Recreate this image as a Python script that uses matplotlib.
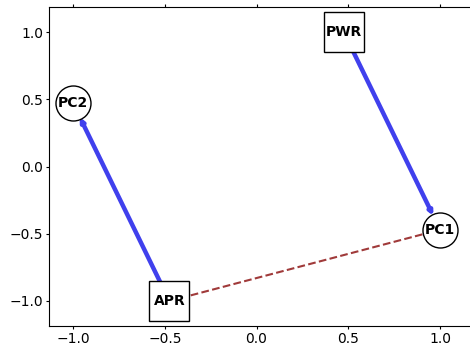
import matplotlib
matplotlib.use('Agg')
import matplotlib.pyplot as plt
import numpy as np

# node positions
box_nodes = ['PWR', 'APR']
box_x = [0.475, -0.475]
box_y = [1.0, -1.0]

circle_nodes = ['PC1', 'PC2']
circle_x = [1.0, -1.0]
circle_y = [-0.47, 0.47]

pos = {}
for n, x, y in zip(box_nodes, box_x, box_y):
    pos[n] = (x, y)
for n, x, y in zip(circle_nodes, circle_x, circle_y):
    pos[n] = (x, y)

arrow_edges = [('PWR', 'PC1'), ('APR', 'PC2')]
dashed_edges = [('APR', 'PC1')]

box_size = 29.5      # points
circle_size = 25.2   # points

fig = plt.figure(figsize=(4.7, 3.48), dpi=100)
ax = fig.add_axes([0.1043, 0.0632, 0.91, 0.9167])
ax.set_xlim(-1.131, 1.2)
ax.set_ylim(-1.186, 1.186)
ax.spines['right'].set_visible(False)
ax.tick_params(top=True, labeltop=False, length=2.2, pad=2)
ax.set_xticks([-1.0, -0.5, 0.0, 0.5, 1.0])
ax.set_yticks([-1.0, -0.5, 0.0, 0.5, 1.0])

blue = (0.25, 0.25, 0.93)
for a, b in arrow_edges:
    ax.annotate('', xy=pos[b], xytext=pos[a],
                arrowprops=dict(arrowstyle='-|>', color=blue, lw=3.2,
                                mutation_scale=5, shrinkA=0,
                                shrinkB=circle_size / 2 - 1.5),
                zorder=1)

for a, b in dashed_edges:
    ax.plot([pos[a][0], pos[b][0]], [pos[a][1], pos[b][1]],
            '--', color='#a03a3a', lw=1.5, zorder=1)

ax.plot(box_x, box_y, 's', ms=box_size, mfc='white', mec='black',
        mew=1, ls='none', zorder=2)
ax.plot(circle_x, circle_y, 'o', ms=circle_size, mfc='white', mec='black',
        mew=1, ls='none', zorder=2)

for n, (x, y) in pos.items():
    ax.text(x, y, n, ha='center', va='center', fontsize=10,
            fontweight='bold', zorder=3)

fig.savefig('out.png', dpi=100)
